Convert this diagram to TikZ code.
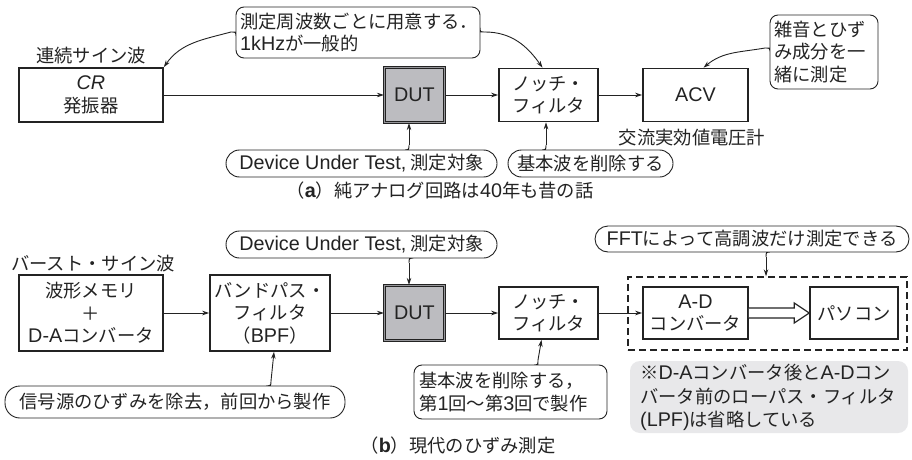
\documentclass[tikz,border=0pt]{standalone}
\usepackage{fontspec}
\setmainfont{Noto Sans CJK JP}[AutoFakeSlant=0.2,AutoFakeBold=2]
\newfontfamily\lat{Liberation Sans}[Scale=1.08]
\usetikzlibrary{arrows.meta,calc}
\definecolor{ink}{RGB}{35,35,35}
\definecolor{dutfill}{RGB}{188,188,192}
\definecolor{dutgap}{RGB}{150,150,154}
\definecolor{notefill}{RGB}{232,232,234}
% callout with cusp on top edge: x1,y1,x2,y2,r,c
\newcommand\cotop[6]{\draw[callout,rounded corners=#5] (#6-6,#2) -- (#1,#2) -- (#1,#4) -- (#3,#4) -- (#3,#2) -- (#6+6,#2) [sharp corners] .. controls (#6,#2) .. (#6,#2-5) .. controls (#6,#2) .. (#6-6,#2);}
% cusp on bottom edge
\newcommand\cobot[6]{\draw[callout,rounded corners=#5] (#6+6,#4) -- (#3,#4) -- (#3,#2) -- (#1,#2) -- (#1,#4) -- (#6-6,#4) [sharp corners] .. controls (#6,#4) .. (#6,#4+5) .. controls (#6,#4) .. (#6+6,#4);}
% cusp on left edge
\newcommand\coleft[6]{\draw[callout,rounded corners=#5] (#1,#6+6) -- (#1,#4) -- (#3,#4) -- (#3,#2) -- (#1,#2) -- (#1,#6-6) [sharp corners] .. controls (#1,#6) .. (#1-5,#6) .. controls (#1,#6) .. (#1,#6+6);}
\newcommand\lt[1]{{\lat #1}}
\begin{document}
\begin{tikzpicture}[x=1pt,y=-1pt,
  txt/.style={font=\fontsize{18.3}{22.5}\selectfont,text=ink,inner sep=0pt},
  box/.style={txt,draw=ink,line width=1.6pt,align=center},
  dutbox/.style={txt,draw=ink,line width=1.2pt,double=dutgap,double distance=1.4pt,fill=dutfill},
  conn/.style={draw=ink,line width=0.9pt,-{Stealth[length=7pt,width=4.5pt]}},
  callout/.style={draw=ink,line width=0.9pt},
  fatarrow/.style={draw=ink,line width=1.2pt,fill=white,line join=miter},
]
\fill[white] (0,0) rectangle (912,460);
\useasboundingbox (0,0) rectangle (912,460);

% ---------------- (a) ----------------
\node[txt] (lbla) at (91,56) {連続サイン波};
\node[box,minimum width=144,minimum height=54] (cr) at (91,95) {{\lat\itshape CR}\\発振器};
\node[dutbox,minimum width=60,minimum height=55] (dut1) at (414.5,95) {\lt{DUT}};
\node[box,minimum width=99,minimum height=53] (n1) at (548.5,95) {ノッチ・\\フィルタ};
\node[box,minimum width=105,minimum height=53] (acv) at (695.5,95) {\lt{ACV}};
\node[txt] (acvl) at (692,138) {交流実効値電圧計};

\draw[conn] (cr) -- (dut1);
\draw[conn] (dut1) -- (n1);
\draw[conn] (n1) -- (acv);

% callout 1 (two cusps)
\draw[callout,rounded corners=8] (236,38) -- (236,58) -- (480,58) -- (480,38) [sharp corners] .. controls (480,32) .. (485,32) .. controls (480,32) .. (480,26) [rounded corners=8] -- (480,7) -- (236,7) -- (236,26) [sharp corners] .. controls (236,32) .. (231,32) .. controls (236,32) .. (236,38);
\node[txt,anchor=west,align=left] (c1) at (240,32.5) {測定周波数ごとに用意する．\\\lt{1kHz}が一般的};
\coordinate (c1l) at (231,32);
\coordinate (c1r) at (485,32);
\draw[conn] (c1l) to[out=195,in=55] (cr.north east);
\draw[conn] (c1r) to[out=0,in=125] ([xshift=-6pt]n1.north);

% callout 2
\coleft{770}{15}{878}{89}{8}{48}
\node[txt,anchor=west,align=left] (c2) at (774,52) {雑音とひず\\み成分を一\\緒に測定};
\coordinate (c2l) at (765,48);
\draw[conn] (c2l) to[out=190,in=40] ([xshift=8pt]acv.north);

% callouts 3,4
\cotop{226}{150}{497}{177}{13.5}{409}
\node[txt] (c3) at (361.5,163.5) {\lt{Device Under Test,} 測定対象};
\coordinate (c3t) at (409,145);
\draw[conn] (c3t) -- (c3t |- dut1.south);
\cotop{508}{150}{673}{177}{13.5}{546}
\node[txt] (c4) at (590.5,163.5) {基本波を削除する};
\coordinate (c4t) at (546,145);
\draw[conn] (c4t) -- (c4t |- n1.south);

\node[txt] (capa) at (440,191) {（{\lat\bfseries a}）純アナログ回路は\lt{40}年も昔の話};

% ---------------- (b) ----------------
\node[txt] (lblb) at (93,264) {バースト・サイン波};
\node[box,minimum width=144,minimum height=76] (wave) at (91,313) {波形メモリ\\＋\\\lt{D-A}コンバータ};
\node[box,minimum width=120,minimum height=76] (bpf) at (270,313) {バンドパス・\\フィルタ\\（\lt{BPF}）};
\node[dutbox,minimum width=60,minimum height=55] (dut2) at (414.5,313) {\lt{DUT}};
\node[box,minimum width=99,minimum height=52] (n2) at (548.5,313) {ノッチ・\\フィルタ};
\node[draw=ink,line width=1.4pt,dash pattern=on 7pt off 4pt,minimum width=279,minimum height=73] (fftbox) at (767.5,313.5) {};
\node[box,minimum width=105,minimum height=52] (ad) at (695.5,313) {\lt{A-D}\\コンバータ};
\node[box,minimum width=88,minimum height=52] (pc) at (854,313) {パソコン};

\draw[conn] (wave) -- (bpf);
\draw[conn] (bpf) -- (dut2);
\draw[conn] (dut2) -- (n2);
\draw[conn] (n2) -- (ad);
\draw[fatarrow] ([yshift=5pt]ad.east) -- ([xshift=-15pt,yshift=5pt]pc.west) -- ([xshift=-15pt,yshift=10pt]pc.west) -- (pc.west) -- ([xshift=-15pt,yshift=-10pt]pc.west) -- ([xshift=-15pt,yshift=-5pt]pc.west) -- ([yshift=-5pt]ad.east);

% callout 5
\cobot{226}{231}{497}{258}{13.5}{409}
\node[txt] (c5) at (361.5,244.5) {\lt{Device Under Test,} 測定対象};
\coordinate (c5b) at (409,263);
\draw[conn] (c5b) -- (c5b |- dut2.north);

% callout 6
\cobot{595}{226}{909}{252}{13}{766}
\node[txt] (c6) at (752,239) {\lt{FFT}によって高調波だけ測定できる};
\coordinate (c6b) at (766,257);
\draw[conn] (c6b) -- (c6b |- fftbox.north);

% callout 7
\cotop{5}{386}{345}{418}{15}{271}
\node[txt] (c7) at (175,402) {信号源のひずみを除去，前回から製作};
\coordinate (c7t) at (271,381);
\draw[conn] (c7t) -- ([xshift=4pt]bpf.south);

% callout 8
\cotop{414}{365}{607}{419}{8}{538}
\node[txt,anchor=west,align=left] (c8) at (419,392) {基本波を削除する，\\第\lt{1}回〜第\lt{3}回で製作};
\coordinate (c8t) at (538,360);
\draw[conn] (c8t) -- ([xshift=-7pt]n2.south);

% note
\fill[notefill,rounded corners=10] (630,361) rectangle (908,433);
\node[txt,anchor=west,align=left,font=\fontsize{18.3}{23.5}\selectfont] (note) at (640,397.5) {※\lt{D-A}コンバータ後と\lt{A-D}コン\\バータ前のローパス・フィルタ\\\lt{(LPF)}は省略している};

\node[txt] (capb) at (458,446) {（{\lat\bfseries b}）現代のひずみ測定};
\end{tikzpicture}
\end{document}
